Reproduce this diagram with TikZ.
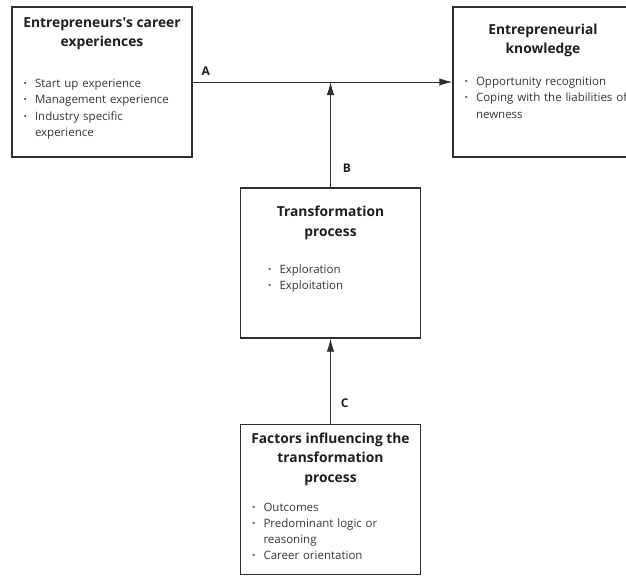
\documentclass[tikz,border=0pt]{standalone}
\usepackage{fontspec}
\setmainfont{Open Sans}
\usetikzlibrary{positioning, arrows.meta}

\definecolor{ink}{HTML}{1E1E1E}
\definecolor{edge}{HTML}{2E2E2E}
\newcommand{\bul}{\par\noindent\hangindent=11.5pt\hangafter=1\makebox[11.5pt][l]{\bfseries\textperiodcentered}}
\newcommand{\brk}{\hfil\break}

\tikzset{
  box/.style = {draw=edge, line width=1.4pt, minimum width=180pt, minimum height=150pt, inner sep=0pt},
  head/.style = {align=center, inner sep=0pt, text=ink, font=\fontsize{13.8}{19.5}\selectfont\bfseries},
  items/.style = {align=left, text width=200pt, inner sep=0pt, text=ink!90, font=\fontsize{11.5}{16.2}\selectfont},
  link/.style = {draw=edge, line width=0.9pt, -{Latex[length=13pt,width=7.5pt]}},
  tag/.style = {inner sep=0pt, text=ink, font=\fontsize{12}{12}\selectfont\bfseries}
}

\begin{document}
\begin{tikzpicture}[x=1pt, y=-1pt]
\useasboundingbox (0,0) rectangle (626,578);

\node[box] (exp) at (102,82) {};
\node[box] (know) at (543,82) {};
\node[box] (trans) at (330.5,263) {};
\node[box] (fact) at (330.5,499.5) {};

\node[head, below=11pt of exp.north] (exp-head) {Entrepreneurs\textquotesingle s career\\experiences};
\node[items, below right=65pt and 12pt of exp.north west] (exp-items)
  {\bul Start up experience \bul Management experience \bul Industry specific\brk experience\par};

\node[head, below=17.5pt of know.north] (know-head) {Entrepreneurial\\knowledge};
\node[items, below right=63pt and 12pt of know.north west] (know-items)
  {\bul Opportunity recognition \bul Coping with the liabilities of\brk newness\par};

\node[head, below=18.5pt of trans.north] (trans-head) {Transformation\\process};
\node[items, below right=70pt and 28pt of trans.north west] (trans-items)
  {\bul Exploration \bul Exploitation\par};

\node[head, below=8.5pt of fact.north] (fact-head) {Factors influencing the\\transformation\\process};
\node[items, below right=71pt and 12pt of fact.north west] (fact-items)
  {\bul Outcomes \bul Predominant logic or\brk reasoning \bul Career orientation\par};

\coordinate (join) at (trans.north |- exp.east);
\draw[link] (exp) -- node[tag, pos=0.05, above=6pt] (lab-a) {A} (know);
\draw[link] (trans) -- node[tag, pos=0.18, right=12pt] (lab-b) {B} (join);
\draw[link] (fact) -- node[tag, pos=0.24, right=10pt] (lab-c) {C} (trans);
\end{tikzpicture}
\end{document}
